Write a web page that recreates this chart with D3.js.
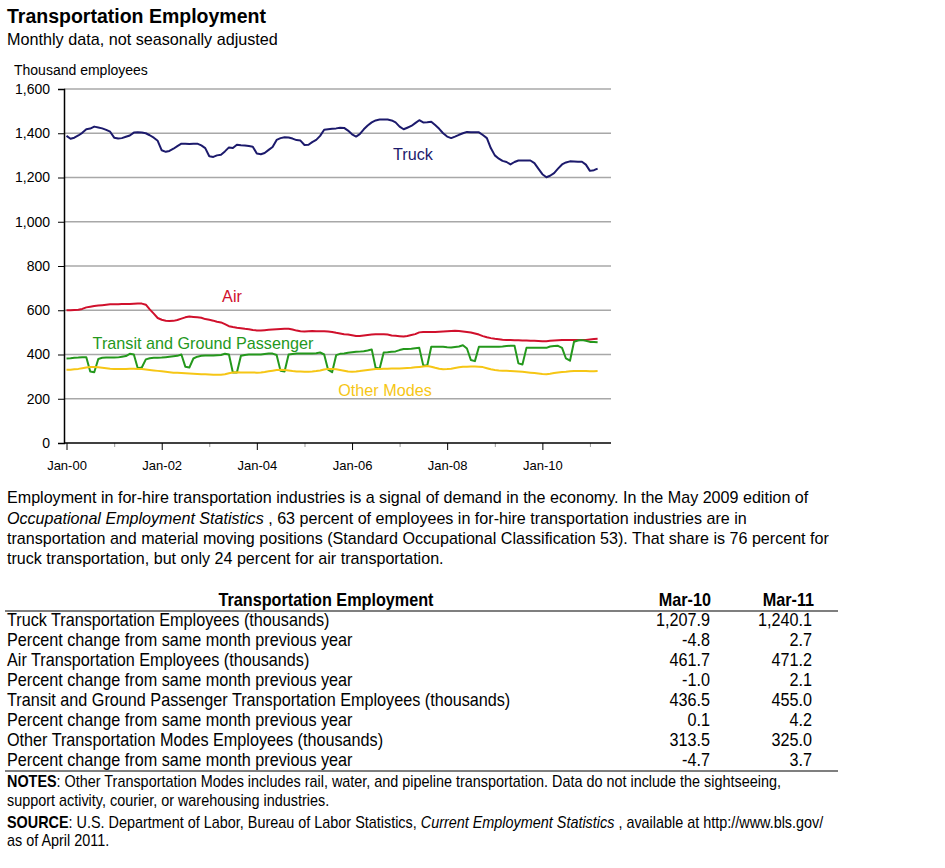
<!DOCTYPE html>
<html>
<head>
<meta charset="utf-8">
<script src="https://cdn.jsdelivr.net/npm/d3@7"></script>
<style>
  body { margin: 0; background: #fff; }
  text { font-family: "Liberation Sans", Arial, sans-serif; }
</style>
</head>
<body>
<script>
// Monthly values, Jan-2000 .. Mar-2011 (thousands of employees)
var truck = [
  1388, 1375, 1380, 1390, 1402, 1418, 1421, 1430, 1426, 1422, 1415, 1407,
  1380, 1376, 1378, 1384, 1390, 1403, 1404, 1403, 1400, 1391, 1380, 1366,
  1323, 1316, 1320, 1330, 1342, 1353, 1352, 1351, 1352, 1353, 1345, 1333,
  1296, 1293, 1300, 1303, 1318, 1336, 1333, 1348, 1346, 1345, 1342, 1339,
  1308, 1305, 1311, 1325, 1338, 1370, 1378, 1382, 1381, 1376, 1369, 1367,
  1347, 1348, 1360, 1370, 1388, 1416, 1418, 1420, 1422, 1425, 1424, 1412,
  1395, 1385, 1396, 1418, 1435, 1449, 1458, 1462, 1462, 1462, 1458, 1449,
  1430, 1418, 1425, 1433, 1446, 1459, 1449, 1450, 1452, 1437, 1420, 1400,
  1385, 1378, 1385, 1393, 1400, 1406, 1405, 1404, 1404, 1392, 1378, 1333,
  1300, 1285, 1275, 1270, 1259, 1270, 1277, 1277, 1277, 1277, 1265, 1240,
  1215, 1201, 1208, 1220, 1240, 1259, 1268, 1273, 1272, 1271, 1271, 1258,
  1230, 1233, 1240
];
var air = [
  600, 600, 601, 602, 606, 613, 616, 619, 621, 623, 625, 627,
  627, 627, 628, 628, 628, 629, 630, 630, 625, 604, 585, 565,
  557, 553, 551, 552, 556, 562, 568, 572, 570, 568, 566, 560,
  557, 553, 548, 545, 537, 528, 524, 521, 519, 516, 514, 511,
  509, 508, 510, 512, 513, 514, 515, 516, 516, 513, 508, 505,
  504, 505, 506, 505, 505, 505, 504, 502, 498, 495, 492, 490,
  487, 484, 484, 486, 488, 490, 491, 492, 492, 490, 486, 485,
  483, 481, 484, 488, 492, 500, 502, 502, 502, 502, 503, 504,
  505, 506, 507, 506, 504, 502, 499, 495, 490, 483, 478, 474,
  471, 469, 467, 466, 465, 464, 464, 463, 463, 462, 462, 461,
  460, 460, 462, 463, 464, 465, 466, 466, 466, 465, 465, 466,
  468, 470, 471
];
var transit = [
  382, 383, 385, 386, 388, 388, 323, 320, 380, 385, 386, 387,
  386, 387, 390, 393, 403, 400, 338, 341, 378, 383, 385, 385,
  386, 388, 390, 392, 394, 400, 345, 341, 382, 390, 394, 395,
  396, 396, 397, 398, 403, 400, 319, 319, 394, 398, 400, 400,
  400, 400, 402, 404, 404, 398, 326, 323, 400, 402, 404, 404,
  404, 404, 405, 406, 409, 400, 331, 320, 397, 403, 405, 408,
  410, 412, 413, 415, 418, 423, 340, 337, 409, 410, 412, 414,
  420, 425, 425, 426, 428, 430, 352, 349, 435, 435, 435, 435,
  433, 432, 434, 436, 442, 427, 375, 370, 435, 435, 435, 435,
  435, 435, 436, 438, 440, 440, 360, 355, 430, 430, 430, 430,
  430, 430, 436, 438, 439, 430, 382, 372, 458, 463, 465, 462,
  457, 456, 455
];
var other = [
  331, 331, 333, 335, 338, 341, 344, 344, 342, 340, 338, 336,
  335, 334, 334, 335, 336, 336, 335, 334, 332, 330, 328, 326,
  324, 322, 320, 318, 317, 316, 315, 314, 313, 312, 311, 311,
  310, 308, 308, 309, 311, 315, 319, 320, 319, 319, 319, 319,
  318, 319, 321, 324, 327, 330, 331, 330, 328, 325, 323, 323,
  322, 322, 323, 325, 328, 332, 335, 334, 333, 330, 327, 323,
  322, 323, 325, 328, 330, 332, 334, 335, 336, 336, 337, 337,
  337, 338, 339, 340, 342, 344, 346, 348, 345, 340, 336, 333,
  334, 336, 339, 342, 345, 345, 346, 346, 345, 343, 338, 333,
  330, 328, 327, 326, 325, 324, 323, 322, 320, 318, 316, 314,
  312, 311, 313, 316, 319, 321, 322, 324, 325, 325, 325, 325,
  324, 324, 325
];
var months = d3.timeMonth.range(new Date(2000, 0, 1), new Date(2011, 3, 1));
var yTicks = [0, 200, 400, 600, 800, 1000, 1200, 1400, 1600];

var seriesNames = ["Truck", "Air", "Transit and Ground Passenger", "Other Modes"];
var seriesValues = [truck, air, transit, other];
var seriesColors = ["#1c1a6c", "#d0102c", "#24981c", "#f6c615"];
var labelPos = [[413, 160], [232, 302], [203, 349], [385, 396]];

// Table data
var tableHead = ["Transportation Employment", "Mar-10", "Mar-11"];
var tableRows = [
  "Truck Transportation Employees (thousands)",
  "Percent change from same month previous year",
  "Air Transportation Employees (thousands)",
  "Percent change from same month previous year",
  "Transit and Ground Passenger Transportation Employees (thousands)",
  "Percent change from same month previous year",
  "Other Transportation Modes Employees (thousands)",
  "Percent change from same month previous year"
];
var mar10 = ["1,207.9", "-4.8", "461.7", "-1.0", "436.5", "0.1", "313.5", "-4.7"];
var mar11 = ["1,240.1", "2.7", "471.2", "2.1", "455.0", "4.2", "325.0", "3.7"];

var svg = d3.select("body").append("svg")
            .attr("width", 945)
            .attr("height", 868);

// Titles
svg.append("text").attr("x", 7).attr("y", 23)
   .style("font-size", "19.5px").style("font-weight", "bold")
   .text("Transportation Employment");
svg.append("text").attr("x", 7).attr("y", 45)
   .style("font-size", "16.2px")
   .text("Monthly data, not seasonally adjusted");
svg.append("text").attr("x", 14).attr("y", 75)
   .style("font-size", "14px")
   .text("Thousand employees");

var pLeft = 64, pRight = 611, pTop = 89, pBottom = 443;

// Category positions sit slightly right of the value axis, as in the original
var xScale = d3.scaleTime()
               .domain([new Date(2000, 0, 1), new Date(2011, 6, 1)])
               .range([pLeft + 2.5, pRight + 2.5]);
var yScale = d3.scaleLinear().domain([0, 1600]).range([pBottom, pTop]);

// Gridlines
svg.append("g").selectAll("line")
   .data(yTicks.slice(1))
   .enter().append("line")
   .attr("x1", pLeft).attr("x2", pRight)
   .attr("y1", function(d) { return yScale(d); })
   .attr("y2", function(d) { return yScale(d); })
   .attr("stroke", "#a8a8a8")
   .attr("stroke-width", 1.3);

// Y axis
var yAxis = svg.append("g")
   .attr("transform", "translate(" + pLeft + ",0)")
   .call(d3.axisLeft(yScale).tickValues(yTicks).tickFormat(d3.format(",")).tickSize(6).tickPadding(8));
yAxis.select(".domain").attr("stroke", "#000").attr("stroke-width", 1.5);
yAxis.selectAll("text").style("font-size", "14px").style("font-family", "Liberation Sans, Arial, sans-serif").attr("fill", "#000");

// X axis
var xAxis = svg.append("g")
   .attr("transform", "translate(0," + pBottom + ")")
   .call(d3.axisBottom(xScale)
           .ticks(d3.timeYear.every(1))
           .tickSizeOuter(0)
           .tickSize(4)
           .tickPadding(14)
           .tickFormat(function(d) { return d.getFullYear() % 2 === 0 ? d3.timeFormat("%b-%y")(d) : ""; }));
xAxis.select(".domain").remove();
xAxis.selectAll(".tick line")
     .attr("y2", function(d) { return d.getFullYear() % 2 === 0 ? 7 : 4; })
     .attr("stroke", function(d) { return d.getFullYear() % 2 === 0 ? "#000" : "#999"; });
xAxis.selectAll("text").style("font-size", "13px").style("font-family", "Liberation Sans, Arial, sans-serif").attr("fill", "#000");
svg.append("line").attr("x1", pLeft).attr("x2", pRight)
   .attr("y1", pBottom).attr("y2", pBottom)
   .attr("stroke", "#000").attr("stroke-width", 1.5);

// Lines
var line = d3.line()
             .x(function(d, i) { return xScale(months[i]); })
             .y(function(d) { return yScale(d); });

svg.append("g").selectAll("path")
   .data(seriesValues)
   .enter().append("path")
   .attr("d", line)
   .attr("fill", "none")
   .attr("stroke", function(d, i) { return seriesColors[i]; })
   .attr("stroke-width", 2)
   .attr("stroke-linejoin", "round");

// Series labels
svg.append("g").selectAll("text")
   .data(seriesNames)
   .enter().append("text")
   .attr("x", function(d, i) { return labelPos[i][0]; })
   .attr("y", function(d, i) { return labelPos[i][1]; })
   .attr("text-anchor", "middle")
   .attr("fill", function(d, i) { return seriesColors[i]; })
   .style("font-size", "16.2px")
   .text(function(d) { return d; });

// Paragraph
var para = svg.append("text").attr("x", 7).attr("y", 503).style("font-size", "16.1px");
para.append("tspan").attr("x", 7).attr("y", 503)
    .text("Employment in for-hire transportation industries is a signal of demand in the economy. In the May 2009 edition of");
var l2 = para.append("tspan").attr("x", 7).attr("y", 524);
l2.append("tspan").style("font-style", "italic").text("Occupational Employment Statistics");
l2.append("tspan").text(" , 63 percent of employees in for-hire transportation industries are in");
para.append("tspan").attr("x", 7).attr("y", 544)
    .text("transportation and material moving positions (Standard Occupational Classification 53). That share is 76 percent for");
para.append("tspan").attr("x", 7).attr("y", 564)
    .text("truck transportation, but only 24 percent for air transportation.");

// Table (condensed look: horizontal squeeze)
var sx = 0.9;
var table = svg.append("g").attr("transform", "scale(" + sx + ",1)").style("font-size", "18px");
table.append("text").attr("x", 326 / sx).attr("y", 606).attr("text-anchor", "middle")
     .style("font-weight", "bold").text(tableHead[0]);
table.append("text").attr("x", 711 / sx).attr("y", 606).attr("text-anchor", "end")
     .style("font-weight", "bold").text(tableHead[1]);
table.append("text").attr("x", 814 / sx).attr("y", 606).attr("text-anchor", "end")
     .style("font-weight", "bold").text(tableHead[2]);
table.selectAll("text.row").data(tableRows).enter().append("text")
     .attr("class", "row")
     .attr("x", 7 / sx).attr("y", function(d, i) { return 626 + i * 20; })
     .text(function(d) { return d; });
table.selectAll("text.c1").data(mar10).enter().append("text")
     .attr("class", "c1").attr("text-anchor", "end")
     .attr("x", 710 / sx).attr("y", function(d, i) { return 626 + i * 20; })
     .text(function(d) { return d; });
table.selectAll("text.c2").data(mar11).enter().append("text")
     .attr("class", "c2").attr("text-anchor", "end")
     .attr("x", 812 / sx).attr("y", function(d, i) { return 626 + i * 20; })
     .text(function(d) { return d; });
svg.append("line").attr("x1", 5).attr("x2", 838).attr("y1", 611).attr("y2", 611)
   .attr("stroke", "#000").attr("stroke-width", 1.2);
svg.append("line").attr("x1", 5).attr("x2", 838).attr("y1", 771).attr("y2", 771)
   .attr("stroke", "#000").attr("stroke-width", 1.2);

// Notes and source
var notes = svg.append("g").attr("transform", "scale(" + sx + ",1)").style("font-size", "16px");
var n1 = notes.append("text").attr("x", 7 / sx).attr("y", 787);
n1.append("tspan").style("font-weight", "bold").text("NOTES");
n1.append("tspan").text(": Other Transportation Modes includes rail, water, and pipeline transportation. Data do not include the sightseeing,");
notes.append("text").attr("x", 7 / sx).attr("y", 806).text("support activity, courier, or warehousing industries.");
var s1 = notes.append("text").attr("x", 7 / sx).attr("y", 828);
s1.append("tspan").style("font-weight", "bold").text("SOURCE");
s1.append("tspan").text(": U.S. Department of Labor, Bureau of Labor Statistics, ");
s1.append("tspan").style("font-style", "italic").text("Current Employment Statistics");
s1.append("tspan").text(" , available at http://www.bls.gov/");
notes.append("text").attr("x", 7 / sx).attr("y", 846).text("as of April 2011.");
</script>
</body>
</html>
